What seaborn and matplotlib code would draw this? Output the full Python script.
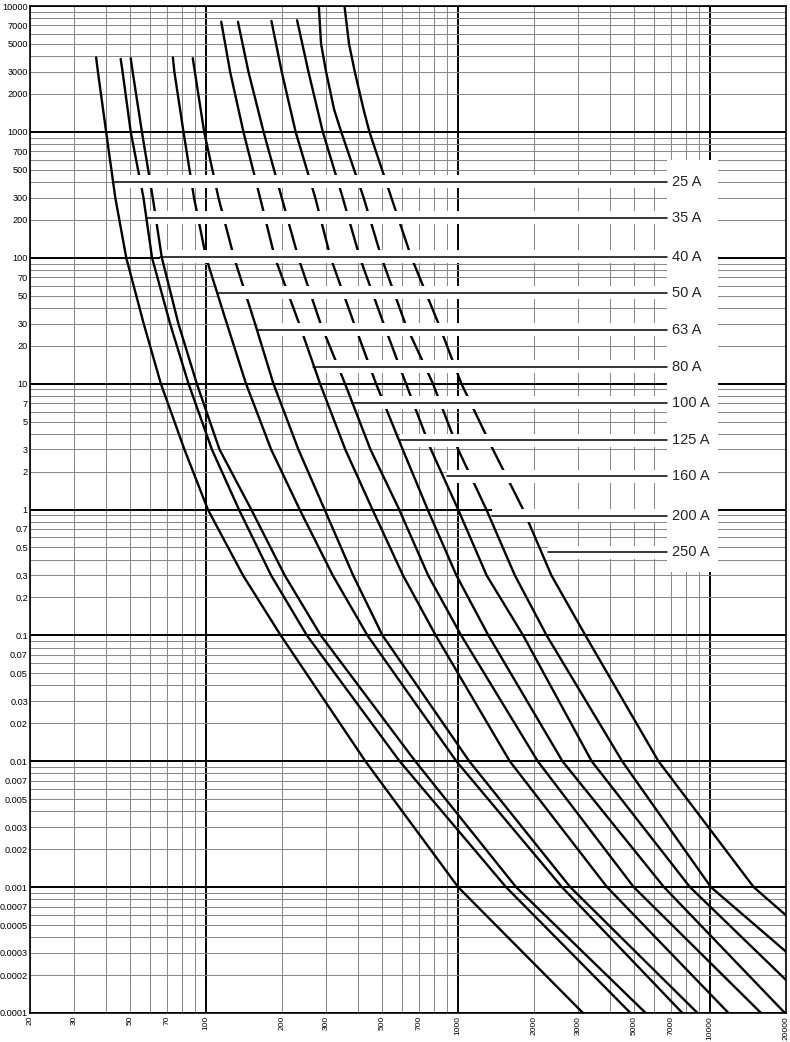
import numpy as np
import pandas as pd
import seaborn as sns
import matplotlib
matplotlib.use("Agg")
import matplotlib.pyplot as plt
from matplotlib.patches import Rectangle
from matplotlib.ticker import LogLocator, FuncFormatter

# fuse ratings and their time-current curves (current in A, time in s)
ratings = ["25 A", "35 A", "40 A", "50 A", "63 A", "80 A", "100 A", "125 A", "160 A", "200 A", "250 A"]

t_25 = [3900, 3000, 1000, 300, 100, 30, 10, 3, 1, 0.3, 0.1, 0.01, 0.001, 0.0001]
i_25 = [36.6, 37.2, 40.1, 43.6, 48.2, 56.5, 66.1, 82.0, 101.6, 140, 197.7, 428.5, 1000, 3130]

t_35 = [3800, 3000, 1000, 300, 100, 30, 10, 3, 1, 0.3, 0.1, 0.01, 0.001, 0.0001]
i_35 = [45.8, 46.6, 50.2, 56.4, 61.0, 71.9, 85.1, 105.4, 134.9, 181, 251, 586, 1549, 4830]

t_40 = [3850, 3000, 1000, 300, 100, 30, 10, 3, 1, 0.3, 0.1, 0.01, 0.001, 0.0001]
i_40 = [50.2, 51.1, 55.6, 61.4, 66.7, 77.6, 91.8, 113, 151, 205, 285, 676, 1698, 5550]

t_50 = [3900, 3000, 1000, 300, 100, 30, 10, 3, 1, 0.3, 0.1, 0.01, 0.001, 0.0001]
i_50 = [73.8, 74.8, 81.3, 89.5, 100, 120.8, 143.9, 181.1, 235, 318, 436.5, 984, 2582, 7760]

t_63 = [3850, 3000, 1000, 300, 100, 30, 10, 3, 1, 0.3, 0.1, 0.01, 0.001, 0.0001]
i_63 = [88.5, 90.2, 98.2, 111.9, 129.1, 156.3, 184.9, 232.3, 295.1, 383, 501, 1107, 2786, 8910]

t_80 = [7500, 3000, 1000, 300, 100, 30, 10, 3, 1, 0.3, 0.1, 0.01, 0.001, 0.0001]
i_80 = [114.8, 124.5, 140.6, 163.7, 187.5, 233.9, 283.1, 356.5, 457, 604, 814.7, 1603, 3899, 11830]

t_100 = [7500, 3000, 1000, 300, 100, 30, 10, 3, 1, 0.3, 0.1, 0.01, 0.001, 0.0001]
i_100 = [133.7, 147.2, 169.0, 199.5, 232.3, 284.4, 355.6, 448.7, 583.4, 760, 1028, 2070, 4977, 15920]

t_125 = [7600, 3000, 1000, 300, 100, 30, 10, 3, 1, 0.3, 0.1, 0.01, 0.001, 0.0001]
i_125 = [181.6, 199.5, 226.5, 271, 311.9, 386.4, 472.1, 602.6, 756.8, 984, 1318, 2594, 6561, 19800]

t_160 = [7700, 3000, 1000, 300, 100, 30, 10, 3, 1, 0.3, 0.1, 0.01, 0.001, 0.000183]
i_160 = [229.6, 254.7, 290.4, 348.3, 407.4, 505.8, 620.9, 779.8, 1000, 1297, 1811, 3388, 8318, 20000]

t_200 = [10000, 5000, 3000, 1500, 1000, 300, 100, 30, 10, 3, 1, 0.3, 0.1, 0.01, 0.001, 0.000307]
i_200 = [279.9, 285.8, 299.2, 322.1, 343.6, 421.7, 496.6, 616.6, 794.3, 1000, 1294, 1679, 2244, 4477, 10070, 20000]

t_250 = [10000, 5000, 3000, 1500, 1000, 300, 100, 30, 10, 3, 1, 0.3, 0.1, 0.01, 0.001, 0.000597]
i_250 = [354, 369, 389, 421.7, 444.6, 543.3, 653.1, 835.6, 1030, 1374, 1811, 2344, 3199, 6237, 14890, 20000]

curve_times = [t_25, t_35, t_40, t_50, t_63, t_80, t_100, t_125, t_160, t_200, t_250]
curve_currents = [i_25, i_35, i_40, i_50, i_63, i_80, i_100, i_125, i_160, i_200, i_250]

# leader lines: time level and the current where each line leaves its curve
leader_t = [401, 208, 102, 52.7, 26.8, 13.6, 7.06, 3.55, 1.83, 0.895, 0.458]
leader_i = [42.8, 58.3, 65.6, 110.7, 160.7, 266.1, 378.4, 588.8, 901.6, 1361, 2280]

BOX_X0, BOX_X1 = 6745, 10770      # white label panel
BOX_Y0, BOX_Y1 = 0.316, 600
LABEL_X = 7060

sns.set_theme(style="white")
plt.rcParams["font.family"] = ["Liberation Sans", "DejaVu Sans"]

fig = plt.figure(figsize=(7.9, 10.42), dpi=100)
ax = fig.add_axes([30 / 790, 1 - 1013 / 1042, 756 / 790, 1007 / 1042])
ax.set_xscale("log")
ax.set_yscale("log")
ax.set_xlim(20, 20000)
ax.set_ylim(1e-4, 1e4)

# grid: heavy black decades, thin grey subdivisions
ax.set_axisbelow(True)
for axis in (ax.xaxis, ax.yaxis):
    axis.set_major_locator(LogLocator(base=10, numticks=20))
    axis.set_minor_locator(LogLocator(base=10, subs=np.arange(2, 10), numticks=20))
ax.grid(which="major", color="black", lw=1.4)
ax.grid(which="minor", color="#8a8a8a", lw=0.75)


def fmt_major(v, pos):
    return f"{v:g}"


def fmt_minor(v, pos):
    m = round(v / 10 ** np.floor(np.log10(v) + 1e-9))
    return f"{v:g}" if m in (2, 3, 5, 7) else ""


for axis in (ax.xaxis, ax.yaxis):
    axis.set_major_formatter(FuncFormatter(fmt_major))
    axis.set_minor_formatter(FuncFormatter(fmt_minor))
ax.tick_params(which="both", length=0, colors="black")
ax.tick_params(axis="y", which="both", pad=1.5, labelsize=6.6)
ax.tick_params(axis="x", which="both", pad=2, labelsize=6.1, labelrotation=90)
for s in ax.spines.values():
    s.set_color("black")
    s.set_linewidth(1.2)

ax.add_patch(Rectangle((BOX_X0, BOX_Y0), BOX_X1 - BOX_X0, BOX_Y1 - BOX_Y0,
                       facecolor="white", edgecolor="none", zorder=1.5))

n = len(ratings)
for k in range(n):
    # white band behind each leader line hides grid and the higher-rated curves
    ax.fill_between([leader_i[k], BOX_X0], leader_t[k] * 10 ** -0.052, leader_t[k] * 10 ** 0.052,
                    color="white", lw=0, zorder=100 - 2 * k)
    sns.lineplot(x=curve_currents[k], y=curve_times[k], ax=ax, color="black", lw=1.7,
                 sort=False, estimator=None, zorder=101 - 2 * k)
    ax.plot([leader_i[k], BOX_X0], [leader_t[k], leader_t[k]], color="black", lw=1.1, zorder=200)
    ax.text(LABEL_X, leader_t[k], ratings[k], ha="left", va="center", fontsize=10.5, zorder=201)

ax.set_xlabel("")
ax.set_ylabel("")
fig.savefig("out.png", dpi=100)
